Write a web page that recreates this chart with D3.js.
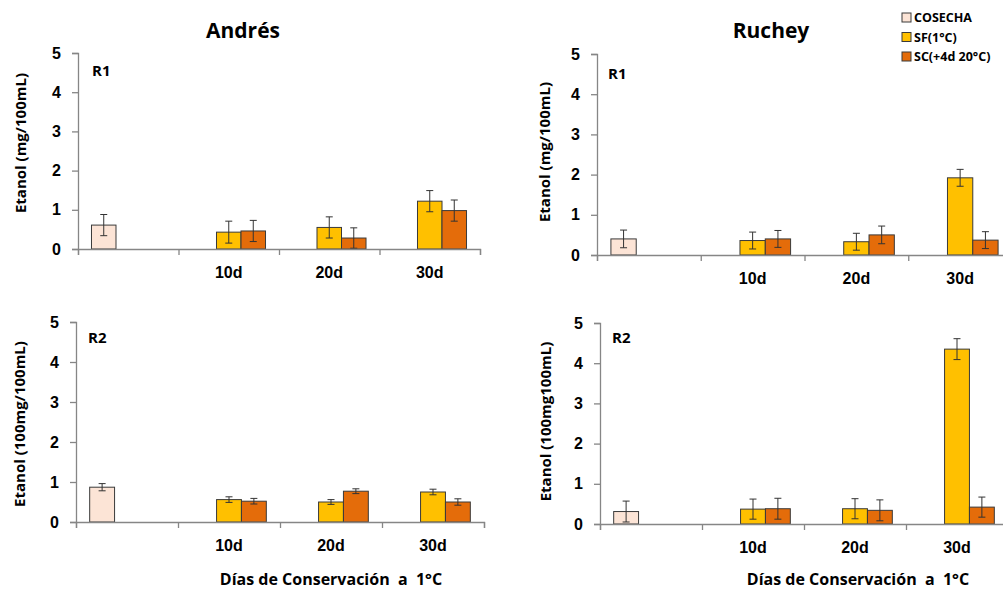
<!DOCTYPE html>
<html>
<head>
<meta charset="utf-8">
<script src="https://cdn.jsdelivr.net/npm/d3@7"></script>
<style>
  body { margin: 0; background: #fff; }
  svg { font-family: 'Open Sans', Lato, sans-serif; font-weight: bold; }
  .eje path, .eje line { stroke: #868686; stroke-width: 1.3px; }
  .eje text { fill: #000; }
</style>
</head>
<body>
<svg id="graf" width="1003" height="589"></svg>
<script>
// Datos. Orden de paneles: Andrés R1, Ruchey R1, Andrés R2, Ruchey R2
categorias = ['0d', '10d', '20d', '30d']
etiquetas  = ['', '10d', '20d', '30d']
series     = ['COSECHA', 'SF(1°C)', 'SC(+4d 20°C)']

mediaCosecha = [0.61, 0.40, 0.87, 0.31]
errCosecha   = [0.27, 0.22, 0.09, 0.26]

// 10d, 20d, 30d
mediaSF = [[0.43, 0.55, 1.22], [0.36, 0.33, 1.92], [0.56, 0.50, 0.75], [0.37, 0.38, 4.35]]
errSF   = [[0.28, 0.27, 0.27], [0.21, 0.21, 0.21], [0.07, 0.06, 0.07], [0.25, 0.25, 0.26]]
mediaSC = [[0.46, 0.28, 0.98], [0.40, 0.50, 0.37], [0.52, 0.77, 0.50], [0.38, 0.34, 0.42]]
errSC   = [[0.27, 0.26, 0.27], [0.21, 0.22, 0.21], [0.07, 0.06, 0.08], [0.26, 0.26, 0.25]]

titulos   = ['Andrés', 'Ruchey', null, null]
repLabels = ['R1', 'R1', 'R2', 'R2']
yLabels   = ['Etanol (mg/100mL)', 'Etanol (mg/100mL)', 'Etanol (100mg/100mL)', 'Etanol (100mg100mL)']
xTitulo   = 'Días de Conservación  a  1°C'

colores = d3.scaleOrdinal().domain(series).range(['#FCE4D6', '#FFC000', '#E46C0A'])

// posiciones de cada panel
marcos = [
  { x0: 78,  x1: 480,  top: 53,  bottom: 249, tx: 243, ty: 38, rx: 92,  ry: 76,  lx: 25.5, ly: 143 },
  { x0: 597, x1: 1012, top: 54,  bottom: 255, tx: 771, ty: 38, rx: 608, ry: 79,  lx: 549.5, ly: 152 },
  { x0: 76,  x1: 484,  top: 322, bottom: 522, rx: 88,  ry: 343, lx: 24.5, ly: 424, ax: 331, ay: 584.5 },
  { x0: 600, x1: 1008, top: 323, bottom: 524, rx: 612, ry: 343, lx: 551, ly: 421.5, ax: 858, ay: 584.5 }
]

svg = d3.select('#graf')

marcos.forEach((m, i) => {
  // tabla del panel
  datos = [{ cat: '0d', serie: series[0], v: mediaCosecha[i], e: errCosecha[i] }]
  for (j = 0; j < 3; j++) {
    datos.push({ cat: categorias[j + 1], serie: series[1], v: mediaSF[i][j], e: errSF[i][j] })
    datos.push({ cat: categorias[j + 1], serie: series[2], v: mediaSC[i][j], e: errSC[i][j] })
  }

  y = d3.scaleLinear().domain([0, 5]).range([m.bottom, m.top])
  x = d3.scaleBand().domain(categorias).range([m.x0, m.x1]).padding(0)
  xs = d3.scaleBand().domain(series).range([0, x.bandwidth()]).paddingInner(0).paddingOuter(0.55)
  xLin = d3.scaleLinear().domain([0, 4]).range([m.x0, m.x1])

  g = svg.append('g')

  // barras
  g.selectAll('rect.bara').data(datos).enter()
    .append('rect')
      .attr('class', 'bara')
      .attr('x', d => x(d.cat) + xs(d.serie))
      .attr('y', d => y(d.v))
      .attr('width', xs.bandwidth())
      .attr('height', d => y(0) - y(d.v))
      .attr('fill', d => colores(d.serie))
      .attr('stroke', '#3a3a3a')
      .attr('stroke-width', 1)

  // barras de error
  err = g.selectAll('g.err').data(datos).enter().append('g').attr('class', 'err')
    .attr('stroke', '#333').attr('stroke-width', 1)
  err.append('line')
    .attr('x1', d => x(d.cat) + xs(d.serie) + xs.bandwidth() / 2)
    .attr('x2', d => x(d.cat) + xs(d.serie) + xs.bandwidth() / 2)
    .attr('y1', d => y(d.v + d.e))
    .attr('y2', d => y(Math.max(0, d.v - d.e)))
  ;[1, -1].forEach(s => {
    err.append('line')
      .attr('x1', d => x(d.cat) + xs(d.serie) + xs.bandwidth() / 2 - 3.5)
      .attr('x2', d => x(d.cat) + xs(d.serie) + xs.bandwidth() / 2 + 3.5)
      .attr('y1', d => y(Math.max(0, d.v + s * d.e)))
      .attr('y2', d => y(Math.max(0, d.v + s * d.e)))
  })

  // ejes
  g.append('g').attr('class', 'eje')
    .attr('transform', `translate(${m.x0}, 0)`)
    .call(d3.axisLeft(y).ticks(5).tickSize(6).tickPadding(11))
    .selectAll('text').style('font-size', '16px')

  g.append('g').attr('class', 'eje')
    .attr('transform', `translate(0, ${m.bottom})`)
    .call(d3.axisBottom(xLin).tickValues([0, 1, 2, 3, 4]).tickFormat('').tickSize(6))

  xl = g.append('g')
    .attr('transform', `translate(0, ${m.bottom})`)
    .call(d3.axisBottom(x).tickSize(0).tickPadding(18).tickFormat((d, k) => etiquetas[k]))
  xl.select('.domain').remove()
  xl.selectAll('text').style('font-size', '16px').attr('fill', '#000')

  // textos
  if (titulos[i]) {
    g.append('text').attr('x', m.tx).attr('y', m.ty).attr('text-anchor', 'middle')
      .style('font-size', '21px').text(titulos[i])
  }
  g.append('text').attr('x', m.rx).attr('y', m.ry).style('font-size', '15px').text(repLabels[i])
  g.append('text').attr('transform', `translate(${m.lx}, ${m.ly}) rotate(-90)`)
    .attr('text-anchor', 'middle').style('font-size', '15px').text(yLabels[i])
  if (m.ax) {
    g.append('text').attr('x', m.ax).attr('y', m.ay).attr('text-anchor', 'middle')
      .style('font-size', '16px').style('white-space', 'pre').text(xTitulo)
  }
})

// Leyenda
leyenda = svg.append('g').attr('transform', 'translate(902, 0)')
series.forEach((d, i) => {
  leyenda.append('rect')
    .attr('x', 0).attr('y', 13 + i * 19.5)
    .attr('width', 9).attr('height', 9)
    .attr('fill', colores(d)).attr('stroke', '#3a3a3a')
  leyenda.append('text')
    .attr('x', 12).attr('y', 22 + i * 19.5)
    .style('font-size', '12.5px').text(d)
})
</script>
</body>
</html>
